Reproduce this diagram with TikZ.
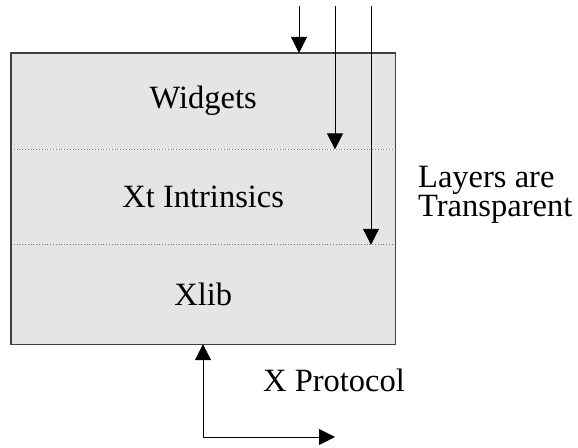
\documentclass[tikz,border=0pt]{standalone}
\usepackage{fontspec}
\setmainfont{Liberation Serif}
\usetikzlibrary{arrows.meta}

\begin{document}
\begin{tikzpicture}[x=1pt,y=1pt,
  layer/.style={fill=gray!20,minimum width=384pt,inner sep=0pt,font=\fontsize{32.5}{34}\selectfont},
  arr/.style={-{Triangle[width=16pt,length=16pt]},line width=1pt},
  sep/.style={dotted,gray,line width=0.8pt}]
\useasboundingbox (0,0) rectangle (578,447);
\node[layer,minimum height=96pt,anchor=north west] (widgets) at (11,394) {Widgets};
\node[layer,minimum height=95pt,anchor=north] (xt) at (widgets.south) {Xt Intrinsics};
\node[layer,minimum height=99pt,anchor=north] (xlib) at (xt.south) {Xlib};
\draw[sep] (widgets.south west) -- (widgets.south east);
\draw[sep] (xt.south west) -- (xt.south east);
\draw[line width=1.2pt,black!75] (widgets.north west) rectangle (xlib.south east);
\coordinate (in1) at (299,441);
\coordinate (in2) at (335,441);
\coordinate (in3) at (371,441);
\draw[arr] (in1) -- (in1 |- widgets.north);
\draw[arr] (in2) -- (in2 |- widgets.south);
\draw[arr] (in3) -- (in3 |- xt.south);
\coordinate (corner) at (203,10);
\coordinate (out) at (335,10);
\draw[arr] (corner) -- (corner |- xlib.south);
\draw[arr] (corner) -- (out);
\node[align=left,anchor=west,inner sep=0pt,font=\fontsize{32.5}{28}\selectfont] (transp) at (418,252) {Layers are\\Transparent};
\node[anchor=west,inner sep=0pt,font=\fontsize{32.5}{34}\selectfont] (proto) at (263,67) {X Protocol};
\end{tikzpicture}
\end{document}
